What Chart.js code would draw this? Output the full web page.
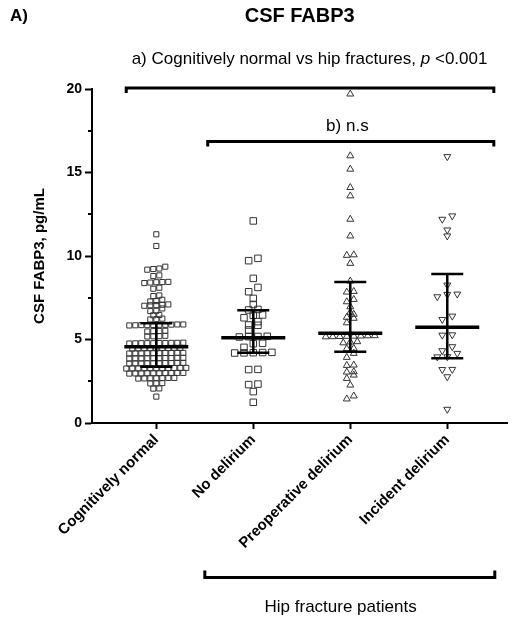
<!DOCTYPE html>
<html>
<head>
<meta charset="utf-8">
<script src="https://cdn.jsdelivr.net/npm/chart.js@4.4.1/dist/chart.umd.min.js"></script>
<style>
  body { margin: 0; background: #fff; }
</style>
</head>
<body>
<canvas id="fabp3Chart" width="513" height="619"></canvas>
<script>
// data
const categories = ["Cognitively normal", "No delirium", "Preoperative delirium", "Incident delirium"];

const cognitivelyNormal = [
    11.3, 10.6,
    9.36, 9.22, 9.18, 9.25,
    8.84, 8.8,
    8.45, 8.41, 8.43, 8.38, 8.44,
    8.1, 8.04,
    7.64, 7.6,
    7.38, 7.3, 7.28,
    7.1, 7.05, 7.08, 7.02, 7.06,
    6.86, 6.72, 6.7,
    6.47, 6.45,
    6.25, 6.2, 6.22,
    5.9, 5.86, 5.88, 5.85, 5.89, 5.87, 5.84, 5.9, 5.86, 5.88,
    5.52, 5.5, 5.48, 5.51,
    5.2, 5.18, 5.22, 5.19,
    4.79, 4.78, 4.8, 4.77, 4.78, 4.81, 4.79, 4.76, 4.8, 4.78,
    4.48, 4.5, 4.47, 4.49, 4.48, 4.46, 4.5, 4.48, 4.49,
    4.18, 4.2, 4.17, 4.19, 4.18, 4.16, 4.2, 4.18, 4.19, 4.17,
    3.88, 3.9, 3.87, 3.89, 3.88, 3.86, 3.9, 3.88, 3.89, 3.87,
    3.58, 3.6, 3.57, 3.59, 3.58, 3.56, 3.6, 3.58, 3.59, 3.57,
    3.28, 3.3, 3.27, 3.29, 3.28, 3.26, 3.3, 3.28, 3.29, 3.27, 3.28,
    2.98, 3.0, 2.97, 2.99, 2.98, 2.96, 3.0, 2.98, 2.99, 2.97,
    2.68, 2.7, 2.67, 2.69, 2.68, 2.66, 2.7,
    2.38, 2.37, 2.39,
    2.07, 2.06,
    1.58
];
const noDelirium = [
    12.1, 9.86, 9.72, 8.66, 8.12, 7.86, 7.46, 7.1, 6.8, 6.77, 6.47, 6.45, 6.3,
    6.07, 5.87, 5.85, 5.57, 5.19, 5.17, 5.15, 5.18, 4.77, 4.75, 4.53,
    4.22, 4.21, 4.2, 4.23, 4.19, 3.21, 3.2, 2.33, 2.3, 1.88, 1.24
];
const preopDelirium = [
    19.7, 16.0, 15.2, 14.1, 13.6, 12.2, 11.2, 10.07, 10.04, 9.56, 8.5,
    7.88, 7.84, 7.4, 7.26, 6.96, 6.63, 6.51, 6.33, 6.27, 6.0,
    5.22, 5.18, 5.2, 5.16, 5.21, 5.19, 5.23, 5.17,
    4.87, 4.85, 4.8, 4.47, 4.45, 4.17, 3.93, 3.47, 3.45, 3.07, 3.05,
    2.87, 2.67, 2.27, 1.62, 1.44
];
const incidentDelirium = [
    15.95, 12.4, 12.2, 11.56, 11.2, 8.26, 7.72, 7.7, 7.56, 6.4, 6.2,
    5.28, 5.26, 4.57, 4.33, 4.17, 3.97, 3.96, 3.21, 3.2, 2.77, 0.82
];
const groups = [cognitivelyNormal, noDelirium, preopDelirium, incidentDelirium];

// median en interkwartielafstand per groep
const medians = [4.57, 5.1, 5.37, 5.73];
const lowerQuartile = [3.37, 4.2, 4.27, 3.87];
const upperQuartile = [5.97, 6.75, 8.45, 8.92];

const yTicks = [0, 5, 10, 15, 20];
const yMinorTicks = [2.5, 7.5, 12.5, 17.5];

// vergelijkingen boven en onder de grafiek (x in categorie-eenheden)
const compareA = { from: -0.31, to: 3.48, y: 20.06, labelX: 1.58, labelY: 21.8 };
const compareB = { from: 0.53, to: 3.48, y: 16.85, labelX: 1.97, labelY: 17.75 };
const hipBracket = { from: 0.50, to: 3.49, label: "Hip fracture patients", labelX: 1.90 };

const FONT = "'Liberation Sans', Arial, sans-serif";

// stijl per groep
const markerStyle = [
    { pointStyle: "rect", radius: 3.6, rotation: 0, gap: 6, row: 4 },
    { pointStyle: "rect", radius: 4.6, rotation: 0, gap: 9.3, row: 5 },
    { pointStyle: "triangle", radius: 4, rotation: 0, gap: 7, row: 5 },
    { pointStyle: "triangle", radius: 4, rotation: 180, gap: 10, row: 5.5 }
];

// punten in rijen naast elkaar zetten (zoals een scatter dot plot)
function swarmOffsets(values, gapPx, rowPx, xUnitPx, yUnitPx) {
    const order = values.map((v, i) => i).sort((a, b) => values[a] - values[b]);
    const offs = new Array(values.length).fill(0);
    let row = [];
    const flush = () => {
        row.forEach((idx, k) => {
            offs[idx] = (k - (row.length - 1) / 2) * gapPx / xUnitPx;
        });
        row = [];
    };
    order.forEach(idx => {
        if (row.length && (values[idx] - values[row[0]]) * yUnitPx > rowPx) flush();
        row.push(idx);
    });
    flush();
    return offs;
}

function drawText(ctx, parts, cx, cy, size) {
    let total = 0;
    parts.forEach(p => {
        ctx.font = `${p[1]} ${size}px ${FONT}`;
        total += ctx.measureText(p[0]).width;
    });
    let x = cx - total / 2;
    ctx.textAlign = "left";
    ctx.textBaseline = "middle";
    parts.forEach(p => {
        ctx.font = `${p[1]} ${size}px ${FONT}`;
        ctx.fillText(p[0], x, cy);
        x += ctx.measureText(p[0]).width;
    });
}

function bracket(ctx, x1, x2, y, tick) {
    ctx.beginPath();
    ctx.moveTo(x1, y + tick);
    ctx.lineTo(x1, y);
    ctx.lineTo(x2, y);
    ctx.lineTo(x2, y + tick);
    ctx.stroke();
}

const extras = {
    id: "extras",
    afterDatasetsDraw(chart) {
        const { ctx, scales: { x, y } } = chart;
        const unit = x.getPixelForValue(1) - x.getPixelForValue(0);
        ctx.save();
        ctx.strokeStyle = "#000";
        ctx.lineCap = "butt";
        groups.forEach((g, i) => {
            const cx = x.getPixelForValue(i);
            const top = y.getPixelForValue(upperQuartile[i]);
            const bot = y.getPixelForValue(lowerQuartile[i]);
            const med = y.getPixelForValue(medians[i]);
            ctx.lineWidth = 2.5;
            ctx.beginPath();
            ctx.moveTo(cx, top); ctx.lineTo(cx, bot);
            ctx.moveTo(cx - 0.165 * unit, top); ctx.lineTo(cx + 0.165 * unit, top);
            ctx.moveTo(cx - 0.165 * unit, bot); ctx.lineTo(cx + 0.165 * unit, bot);
            ctx.stroke();
            ctx.lineWidth = 3.5;
            ctx.beginPath();
            ctx.moveTo(cx - 0.33 * unit, med); ctx.lineTo(cx + 0.33 * unit, med);
            ctx.stroke();
        });
        ctx.restore();
    },
    afterDraw(chart) {
        const { ctx, chartArea, scales: { x, y } } = chart;
        ctx.save();
        ctx.strokeStyle = "#000";
        ctx.fillStyle = "#000";

        // kleine tussenstreepjes op de y-as
        ctx.lineWidth = 2;
        ctx.beginPath();
        yMinorTicks.forEach(v => {
            const py = Math.round(y.getPixelForValue(v));
            ctx.moveTo(chartArea.left - 4, py);
            ctx.lineTo(chartArea.left, py);
        });
        ctx.stroke();

        // vergelijkingen
        ctx.lineWidth = 3;
        bracket(ctx, x.getPixelForValue(compareA.from), x.getPixelForValue(compareA.to), y.getPixelForValue(compareA.y), 5);
        bracket(ctx, x.getPixelForValue(compareB.from), x.getPixelForValue(compareB.to), y.getPixelForValue(compareB.y), 5);
        drawText(ctx, [["a) Cognitively normal vs hip fractures, ", "normal"], ["p", "italic"], [" <0.001", "normal"]],
            x.getPixelForValue(compareA.labelX), y.getPixelForValue(compareA.labelY), 17);
        drawText(ctx, [["b) n.s", "normal"]], x.getPixelForValue(compareB.labelX), y.getPixelForValue(compareB.labelY), 17);

        // onderste haak
        const by = chartArea.bottom + 154.5;
        bracket(ctx, x.getPixelForValue(hipBracket.from), x.getPixelForValue(hipBracket.to), by, -7);
        drawText(ctx, [[hipBracket.label, "normal"]], x.getPixelForValue(hipBracket.labelX), chartArea.bottom + 184, 17);

        // paneel letter
        ctx.font = `bold 17px ${FONT}`;
        ctx.textAlign = "left";
        ctx.textBaseline = "middle";
        ctx.fillText("A)", 10, 16);
        ctx.restore();
    }
};

const ctx = document.getElementById("fabp3Chart").getContext("2d");

const chart = new Chart(ctx, {
    type: "scatter",
    data: {
        datasets: groups.map((g, i) => ({
            label: categories[i],
            data: g.map(v => ({ x: i, y: v })),
            pointStyle: markerStyle[i].pointStyle,
            pointRadius: markerStyle[i].radius,
            pointRotation: markerStyle[i].rotation,
            borderColor: "#333",
            backgroundColor: "rgba(0,0,0,0)",
            borderWidth: 1,
            clip: false
        }))
    },
    options: {
        responsive: false,
        animation: false,
        layout: { padding: { left: 27, right: 1, top: 0, bottom: 0 } },
        plugins: {
            legend: { display: false },
            tooltip: { enabled: false },
            title: {
                display: true,
                text: "CSF FABP3",
                fullSize: false,
                color: "#000",
                font: { family: FONT, size: 20, weight: "bold" },
                padding: { top: 4, bottom: 61 }
            }
        },
        scales: {
            x: {
                type: "linear",
                min: -0.663,
                max: 3.62,
                afterFit: s => { s.height = 196; },
                afterBuildTicks: s => { s.ticks = categories.map((c, i) => ({ value: i })); },
                border: { color: "#000", width: 2 },
                grid: { drawOnChartArea: false, tickLength: 6, tickColor: "#000", tickWidth: 2 },
                ticks: {
                    autoSkip: false,
                    minRotation: 45,
                    maxRotation: 45,
                    padding: 2,
                    color: "#000",
                    font: { family: FONT, size: 15, weight: "bold" },
                    callback: v => categories[v] ?? ""
                }
            },
            y: {
                min: 0,
                max: 20,
                afterFit: s => { s.width = 65; },
                afterBuildTicks: s => { s.ticks = yTicks.map(v => ({ value: v })); },
                border: { color: "#000", width: 2 },
                grid: { drawOnChartArea: false, tickLength: 7, tickColor: "#000", tickWidth: 2 },
                ticks: {
                    padding: 3,
                    color: "#000",
                    font: { family: FONT, size: 14, weight: "bold" }
                },
                title: {
                    display: true,
                    text: "CSF FABP3, pg/mL",
                    color: "#000",
                    font: { family: FONT, size: 15, weight: "bold" },
                    padding: { top: 4, bottom: 0 }
                }
            }
        }
    },
    plugins: [extras]
});

// beeswarm verschuiving berekenen met de echte schaal
const xs = chart.scales.x, ys = chart.scales.y;
const xUnitPx = xs.getPixelForValue(1) - xs.getPixelForValue(0);
const yUnitPx = ys.getPixelForValue(0) - ys.getPixelForValue(1);
groups.forEach((g, i) => {
    const offs = swarmOffsets(g, markerStyle[i].gap, markerStyle[i].row, xUnitPx, yUnitPx);
    chart.data.datasets[i].data = g.map((v, j) => ({ x: i + offs[j], y: v }));
});
chart.update("none");
</script>
</body>
</html>
